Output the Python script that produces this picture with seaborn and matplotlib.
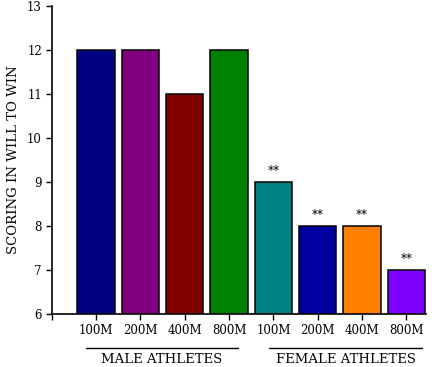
import matplotlib
matplotlib.use("Agg")
import matplotlib.pyplot as plt
import matplotlib.transforms as mtransforms
import seaborn as sns
import pandas as pd

groups = ["MALE ATHLETES"] * 4 + ["FEMALE ATHLETES"] * 4
events = ["100M", "200M", "400M", "800M", "100M", "200M", "400M", "800M"]
scores = [12, 12, 11, 12, 9, 8, 8, 7]
marks = ["", "", "", "", "**", "**", "**", "**"]
colors = ["#000080", "#800080", "#800000", "#008000",
          "#008080", "#0000A0", "#FF8000", "#8000FF"]
y_label = "SCORING IN WILL TO WIN"

sns.set_style("white")
plt.rcParams["font.family"] = ["DejaVu Serif"]
plt.rcParams.update({"text.color": "black", "axes.labelcolor": "black",
                     "xtick.color": "black", "ytick.color": "black"})

df = pd.DataFrame({"key": [g + " " + e for g, e in zip(groups, events)],
                   "score": scores})

fig = plt.figure(figsize=(4.32, 3.67), dpi=100)
ax = fig.add_axes([0.1197, 0.1444, 0.8663, 0.8393])
sns.barplot(data=df, x="key", y="score", hue="key", palette=colors,
            legend=False, width=0.84, edgecolor="black", linewidth=1.1,
            saturation=1, ax=ax)

ax.set_ylim(6, 13)
ax.set_xlim(-1, 7.44)
ax.set_yticks(range(6, 14))
ax.set_yticklabels([str(v) for v in range(6, 14)], fontsize=8.5)
ax.set_xticks(range(-1, 8))
ax.set_xticklabels([""] + events, fontsize=8.5)
ax.set_xlabel("")
ax.set_ylabel(y_label, fontsize=9.5, labelpad=5)
for s in ["top", "right"]:
    ax.spines[s].set_visible(False)
for s in ["left", "bottom"]:
    ax.spines[s].set_color("black")
    ax.spines[s].set_linewidth(1.2)
ax.tick_params(axis="both", direction="out", length=4, width=1, color="black",
               labelcolor="black", bottom=True, left=True, pad=3)

for i, (v, m) in enumerate(zip(scores, marks)):
    if m:
        ax.annotate(m, xy=(i, v), xytext=(0, 3), textcoords="offset points",
                    ha="center", va="bottom", fontsize=8.5, color="black")

trans = mtransforms.blended_transform_factory(ax.transData, ax.transAxes)
group_names = ["MALE ATHLETES", "FEMALE ATHLETES"]
spans = [(-0.23, 3.2), (3.9, 7.36)]
for name, (a, b) in zip(group_names, spans):
    ax.plot([a, b], [-0.110, -0.110], color="black", lw=1, transform=trans,
            clip_on=False)
    ax.text((a + b) / 2, -0.148, name, transform=trans, ha="center",
            va="center", fontsize=9.5, color="black")

fig.savefig("out.png", dpi=100)
